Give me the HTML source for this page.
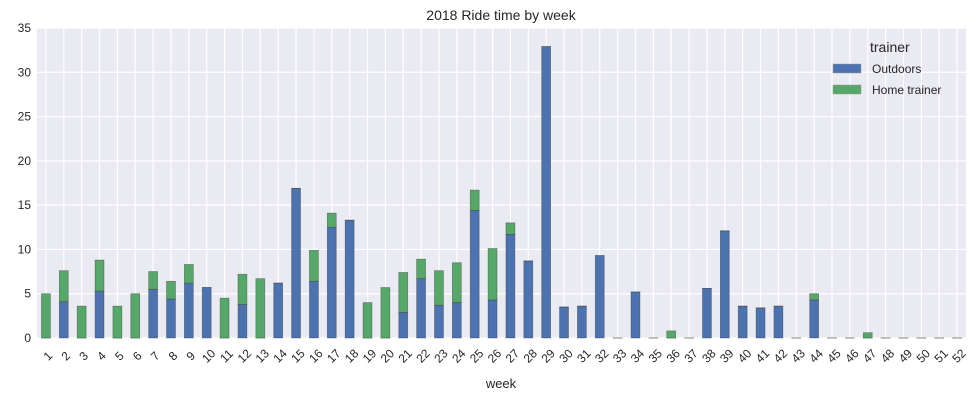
<!DOCTYPE html>
<html><head><meta charset="utf-8"><style>
body{margin:0;background:#fff;font-family:"Liberation Sans",sans-serif;}
svg text{font-family:"Liberation Sans",sans-serif;}
</style></head><body>
<svg id="chart" width="976" height="400">
<text x="501" y="20" text-anchor="middle" font-size="14" fill="#262626">2018 Ride time by week</text>
<rect x="37" y="28" width="929" height="310" fill="#eaeaf2"/>
<g id="grid"></g><g id="bars"></g><g id="xt"></g><g id="yt"></g>
<text x="501" y="388" text-anchor="middle" font-size="13" fill="#262626">week</text>
<g>
<text x="870" y="52" font-size="14" fill="#262626">trainer</text>
<g><rect x="833" y="64" width="28" height="9" fill="#4c72b0" stroke="#999" stroke-width="0.5"/><text x="872" y="73" font-size="12" fill="#262626">Outdoors</text></g>
<g><rect x="833" y="85" width="28" height="9" fill="#55a868" stroke="#999" stroke-width="0.5"/><text x="872" y="94" font-size="12" fill="#262626">Home trainer</text></g>
</g>
</svg>
<script>
const weeks=[];for(let i=1;i<=52;i++)weeks.push(String(i));
const outdoors=[0,4.1,0,5.3,0,0,5.5,4.4,6.2,5.7,0,3.8,0,6.2,16.9,6.4,12.5,13.3,0,0,2.9,6.7,3.7,4.0,14.4,4.3,11.7,8.7,32.9,3.5,3.6,9.3,0,5.2,0,0,0,5.6,12.1,3.6,3.4,3.6,0,4.3,0,0,0,0,0,0,0,0];
const homeTrainer=[5.0,3.5,3.6,3.5,3.6,5.0,2.0,2.0,2.1,0,4.5,3.4,6.7,0,0,3.5,1.6,0,4.0,5.7,4.5,2.2,3.9,4.5,2.3,5.8,1.3,0,0,0,0,0,0,0,0,0.8,0,0,0,0,0,0,0,0.7,0,0,0.6,0,0,0,0,0];
const yTicks=[0,5,10,15,20,25,30,35];
const NS="http://www.w3.org/2000/svg";
const x0=37,x1=966,y0=338,y1=28,ymax=35;
const step=(x1-x0)/weeks.length;
const xs=i=>x0+step*(i+0.5);
const ys=v=>y0-(y0-y1)*v/ymax;
function mk(t,a,p){const e=document.createElementNS(NS,t);for(const k in a)e.setAttribute(k,a[k]);p.appendChild(e);return e;}
const grid=document.getElementById('grid'),bars=document.getElementById('bars'),xt=document.getElementById('xt'),yt=document.getElementById('yt');
yTicks.forEach(v=>{
const l=mk('line',{x1:x0,x2:x1,y1:ys(v),y2:ys(v),stroke:'#fff','stroke-width':1.2},grid);


const t=mk('text',{x:x0-6,y:ys(v)+4,'text-anchor':'end','font-size':12,fill:'#262626'},yt);
t.textContent=v;


});
weeks.forEach((w,i)=>{
const l=mk('line',{x1:xs(i),x2:xs(i),y1:y1,y2:y0,stroke:'#fff','stroke-width':1.2},grid);


const bw=step*0.5;
const o=outdoors[i],h=homeTrainer[i];
const b=mk('rect',{x:xs(i)-bw/2,y:ys(o),width:bw,height:Math.max(ys(0)-ys(o),0.01),fill:'#4c72b0',stroke:'#333','stroke-opacity':0.5,'stroke-width':0.7},bars);


const g=mk('rect',{x:xs(i)-bw/2,y:ys(o+h),width:bw,height:Math.max(ys(o)-ys(o+h),0.01),fill:'#55a868',stroke:'#333','stroke-opacity':0.5,'stroke-width':0.7},bars);


const tx=xs(i)+2,ty=y0+18;
const t=mk('text',{x:tx,y:ty+4,'text-anchor':'middle','font-size':12,fill:'#262626',transform:'rotate(-45 '+tx+' '+ty+')'},xt);
t.textContent=w;


});
</script>
</body></html>
